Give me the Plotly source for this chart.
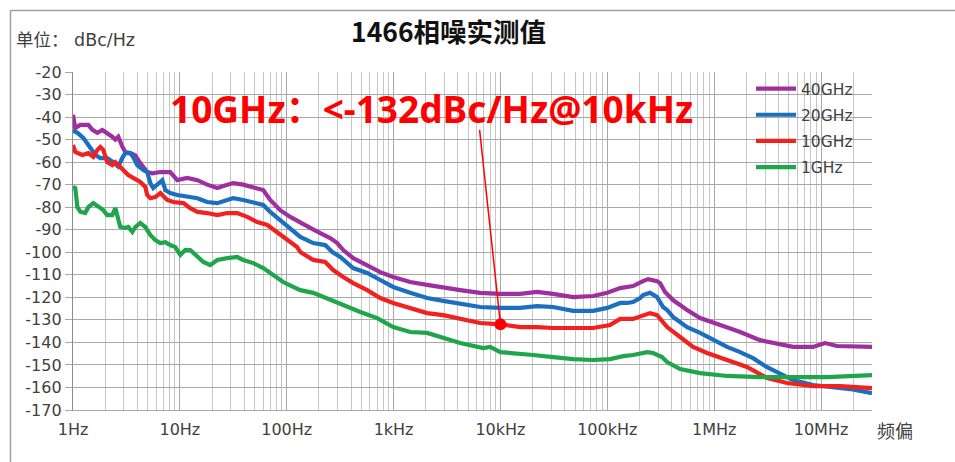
import math
import plotly.graph_objects as go

# ---------------- data ----------------
series_names = ["40GHz", "20GHz", "10GHz", "1GHz"]
series_colors = ["#9e2f9e", "#1a6fc0", "#f0211f", "#1fa64a"]

f_40 = [1, 1.05, 1.17, 1.39, 1.52, 1.69, 1.88, 2.09, 2.33, 2.49, 2.65, 2.89, 3.08, 3.44, 3.83,
        4.26, 4.95, 5.52, 6.56, 8.13, 9.46, 11.7, 14.6, 18.0, 22.4, 25.5, 31.6, 39.2, 48.6, 60.3,
        70.1, 86.9, 108, 134, 166, 206, 255, 297, 338, 419, 566, 750, 991, 1430, 2060, 2910,
        4200, 6460, 10000, 15300, 22000, 31100, 47900, 73600, 100000, 132000, 174000, 216000,
        241000, 292000, 312000, 347000, 412000, 558000, 738000, 1.14e6, 1.75e6, 2.69e6, 3.88e6,
        5.47e6, 8.42e6, 1.09e7, 1.41e7, 2.0e7, 3.0e7]
v_40 = [-39, -44.9, -43.5, -43.5, -45.7, -47, -45.7, -47, -48.7, -50, -48.7, -53, -55.5, -56, -57,
        -60.4, -64.4, -65, -64.4, -64.4, -68, -67, -68, -70, -71.5, -70.6, -69.3, -70, -71, -72.4,
        -76.8, -81.3, -84.3, -87, -89.2, -91.5, -93.7, -95.9, -99, -102.6, -105.7, -108.8, -111,
        -113.2, -114.5, -115.4, -116.8, -118, -118.5, -118.5, -117.6, -118.5, -119.9, -119.4, -118,
        -115.9, -115, -112.8, -111.9, -112.8, -113.7, -117.6, -121.2, -125.6, -129.2, -132.3,
        -135.4, -139, -140.7, -142, -142, -140.3, -141.6, -141.6, -142]

f_20 = [1, 1.10, 1.25, 1.45, 1.62, 1.80, 2.09, 2.38, 2.65, 2.89, 3.08, 3.44, 3.66, 3.99, 4.26,
        4.55, 4.95, 5.29, 5.64, 6.28, 6.85, 7.31, 8.13, 9.46, 11.7, 14.6, 18.0, 22.4, 27.8, 31.6,
        39.2, 48.6, 60.3, 70.1, 86.9, 108, 134, 177, 229, 267, 317, 419, 566, 750, 991, 1430,
        2060, 2910, 4200, 6460, 10000, 15300, 22000, 31100, 47900, 73600, 100000, 132000, 153000,
        174000, 203000, 216000, 251000, 292000, 333000, 363000, 412000, 480000, 558000, 738000,
        977000, 1.32e6, 1.75e6, 2.31e6, 3.13e6, 4.14e6, 5.47e6, 8.42e6, 1.30e7, 1.87e7, 3.0e7]
v_20 = [-46, -47, -49.3, -53.3, -56.8, -58.2, -58.2, -60, -62, -58.2, -56, -56, -57.7, -61.3, -62.6,
        -63.5, -64.4, -69.3, -71.5, -69.3, -68, -72.4, -73.7, -74.6, -75.5, -76, -77.7, -78.2, -76.8,
        -76, -76.8, -77.7, -79, -82.1, -85.7, -89.2, -93.2, -95.9, -96.8, -99.9, -102.1, -107,
        -109.2, -112.3, -115.4, -118, -120.3, -121.6, -123, -124.3, -124.7, -124.7, -123.9, -124.3,
        -126, -126, -124.7, -122.5, -122.5, -122.1, -120.3, -119, -118, -119.9, -124.3, -125.6,
        -128.7, -131, -133.2, -135.8, -139, -142, -144.3, -147, -151, -153.6, -156.7, -158.9,
        -159.8, -160.7, -162.5]

f_10 = [1, 1.05, 1.22, 1.39, 1.55, 1.69, 1.80, 1.92, 2.09, 2.33, 2.49, 2.65, 2.96, 3.29, 3.66,
        4.26, 4.75, 4.95, 5.29, 5.89, 6.56, 7.62, 8.67, 10.8, 12.5, 14.6, 18.0, 22.4, 27.8, 34.4,
        42.7, 53.0, 65.8, 81.5, 101, 125, 134, 177, 229, 272, 338, 419, 566, 750, 991, 1430, 2060,
        2910, 4200, 6460, 10000, 15300, 22000, 31100, 47900, 73600, 106000, 132000, 174000,
        216000, 251000, 292000, 363000, 480000, 635000, 859000, 1.32e6, 2.03e6, 3.13e6, 4.81e6,
        8.42e6, 1.51e7, 3.0e7]
v_10 = [-52.4, -55.5, -56.8, -56, -57.7, -54.6, -53.3, -54.6, -60, -61.3, -60, -61.3, -63.5, -65.7,
        -67, -68.8, -71, -74.6, -76, -75.5, -73.7, -76.8, -77.7, -78.2, -80.4, -82.1, -82.6, -83.5,
        -82.6, -82.6, -84.3, -86.6, -87.9, -91, -94.6, -97.7, -99.9, -103.4, -104.3, -107.9, -111,
        -113.7, -116.8, -120.3, -122.5, -124.7, -127, -127.9, -129.6, -131.4, -132, -133.2, -133.2,
        -133.6, -133.6, -133.6, -132.3, -129.6, -129.6, -127.9, -127, -127.9, -133.2, -137.6, -142,
        -144.7, -147.8, -150.9, -155.8, -158, -159.4, -159.4, -160.3]

f_1 = [1, 1.05, 1.10, 1.17, 1.30, 1.39, 1.55, 1.72, 1.92, 2.09, 2.33, 2.49, 2.60, 2.77, 3.08, 3.29,
       3.59, 3.83, 4.26, 4.75, 5.29, 5.89, 6.56, 7.31, 8.13, 9.06, 10.1, 11.2, 12.5, 14.6, 16.6,
       19.2, 22.4, 27.8, 34.4, 39.2, 48.6, 60.3, 74.8, 92.7, 115, 134, 177, 239, 338, 488, 703,
       991, 1430, 2060, 2910, 4200, 6890, 8010, 10000, 13150, 20200, 31100, 47900, 73600, 106000,
       141000, 174000, 236000, 268000, 325000, 363000, 480000, 738000, 1.32e6, 2.69e6, 5.47e6,
       1.14e7, 3.0e7]
v_1 = [-71, -71.5, -80, -82, -82.6, -80, -78.2, -80, -81.3, -83.5, -83.5, -80.4, -84.3, -88.8,
       -89.2, -88.8, -91, -88.8, -87, -88.8, -92.3, -94.6, -95.9, -95.5, -96.8, -97.7, -101.2, -99,
       -99, -102.1, -104.3, -105.7, -103.4, -102.6, -102.1, -103.4, -104.8, -107, -110.1, -113.2,
       -115.4, -116.8, -118, -120.3, -123.4, -126.5, -129.2, -133.2, -135.4, -135.8, -138, -140.3,
       -142.5, -142, -144.3, -144.7, -145.6, -146.5, -147.4, -147.8, -147.4, -146.1, -145.6,
       -144.3, -144.7, -146.5, -148.7, -151.8, -153.6, -154.9, -155.4, -155.4, -155.4, -154.5]

marker_f = [10000]
marker_v = [-132]

x_tick_vals = [1, 10, 100, 1e3, 1e4, 1e5, 1e6, 1e7]
x_tick_text = ["1Hz", "10Hz", "100Hz", "1kHz", "10kHz", "100kHz", "1MHz", "10MHz"]
y_tick_vals = [-20, -30, -40, -50, -60, -70, -80, -90, -100, -110, -120, -130, -140, -150, -160, -170]
y_tick_text = ["-20", "-30", "-40", "-50", "-60", "-70", "-80", "-90", "-100", "-110", "-120",
               "-130", "-140", "-150", "-160", "-170"]
x_max = 3e7
y_min, y_max = -170, -20

title_text = "1466相噪实测值"
unit_text = "单位： dBc/Hz"
note_text = "10GHz：<-132dBc/Hz@10kHz"
xlabel_text = "频偏"

# ---------------- figure ----------------
W, H = 955, 462
ML, MR, MT, MB = 73, 83, 72, 52
PW, PH = W - ML - MR, H - MT - MB


def px_x(p):
    return (p - ML) / PW


def px_y(p):
    return 1 - (p - MT) / PH


TICKFONT = "DejaVu Sans, Noto Sans CJK SC"
NOTEFONT = "Noto Sans, Noto Sans CJK SC"
CJK = "Noto Sans CJK SC"
TXT = "#404040"

fig = go.Figure()
xs = [f_40, f_20, f_10, f_1]
ys = [v_40, v_20, v_10, v_1]
for i, (name, col) in enumerate(zip(series_names, series_colors)):
    fig.add_trace(go.Scatter(x=xs[i], y=ys[i], mode="lines", name=name,
                             legendgroup=name,
                             line=dict(color=col, width=4.2, shape="linear")))

fig.add_trace(go.Scatter(x=marker_f, y=marker_v, mode="markers", showlegend=False,
                         marker=dict(color="#ff0000", size=12)))

minor_vals = []
for d in range(0, 8):
    for m in range(2, 10):
        v = m * 10 ** d
        if v <= x_max:
            minor_vals.append(v)

fig.update_xaxes(type="log", range=[0, math.log10(x_max)],
                 tickmode="array", tickvals=x_tick_vals, ticktext=x_tick_text,
                 showgrid=True, gridcolor="#a8a8a8", gridwidth=1,
                 minor=dict(tickmode="array", tickvals=minor_vals, showgrid=True,
                            gridcolor="#c6c6c6", gridwidth=1, ticks=""),
                 ticks="", showline=True, linecolor="#a8a8a8", linewidth=1,
                 zeroline=False, ticklabelstandoff=5,
                 tickfont=dict(family=TICKFONT, size=16, color=TXT))
fig.update_yaxes(range=[y_min, y_max], tickmode="array", tickvals=y_tick_vals,
                 ticktext=y_tick_text,
                 showgrid=True, gridcolor="#a8a8a8", gridwidth=1.3,
                 ticks="outside", ticklen=7, tickcolor="#a8a8a8", tickwidth=1.3,
                 showline=True, linecolor="#8c8c8c", linewidth=1.3, zeroline=False,
                 tickfont=dict(family=TICKFONT, size=16, color=TXT))

shapes = [
    # white box behind the note text
    dict(type="rect", xref="paper", yref="paper", x0=px_x(147), x1=px_x(715),
         y0=px_y(137), y1=px_y(80), fillcolor="white", line=dict(width=0), layer="between"),
    # white box behind legend
    dict(type="rect", xref="paper", yref="paper", x0=px_x(748), x1=px_x(870),
         y0=px_y(185), y1=px_y(73.5), fillcolor="white", line=dict(width=0), layer="between"),
    # outer frame
    dict(type="rect", xref="paper", yref="paper", x0=px_x(10.5), x1=px_x(970),
         y0=px_y(480), y1=px_y(10.5), fillcolor="rgba(0,0,0,0)",
         line=dict(color="#a0a0a0", width=1.5), layer="above"),
]

annotations = [
    dict(text="<b>" + title_text + "</b>", xref="paper", yref="paper",
         x=px_x(448), y=px_y(30), showarrow=False, xanchor="center", yanchor="middle",
         font=dict(family=CJK, size=26.5, color="#111111")),
    dict(text=unit_text, xref="paper", yref="paper", x=px_x(14), y=px_y(40),
         showarrow=False, xanchor="left", yanchor="middle",
         font=dict(family=TICKFONT, size=17.5, color=TXT)),
    dict(text="<b>" + note_text + "</b>", xref="paper", yref="paper",
         x=px_x(431), y=px_y(108), showarrow=False, xanchor="center", yanchor="middle",
         font=dict(family=NOTEFONT, size=37, color="#ff0000")),
    dict(text="", x=math.log10(marker_f[0]), y=marker_v[0], xref="x", yref="y",
         showarrow=True, arrowhead=0, arrowwidth=1.5, arrowcolor="#ff0000",
         ax=-21, ay=-196, axref="pixel", ayref="pixel", standoff=0, startstandoff=0),
    dict(text=xlabel_text, xref="paper", yref="paper", x=px_x(875), y=px_y(430),
         showarrow=False, xanchor="left", yanchor="middle",
         font=dict(family=CJK, size=18, color=TXT)),
]

fig.update_layout(
    width=W, height=H, margin=dict(l=ML, r=MR, t=MT, b=MB, pad=0),
    paper_bgcolor="white", plot_bgcolor="white",
    shapes=shapes, annotations=annotations,
    font=dict(family=TICKFONT, color=TXT),
    legend=dict(x=px_x(751), y=1, xanchor="left", yanchor="top",
                bgcolor="rgba(0,0,0,0)", borderwidth=0, tracegroupgap=3,
                font=dict(family=TICKFONT, size=15.5, color=TXT), itemwidth=40),
    showlegend=True,
)

fig.write_html("out.html", include_plotlyjs=True, full_html=True,
               config=dict(displayModeBar=False, responsive=False))
